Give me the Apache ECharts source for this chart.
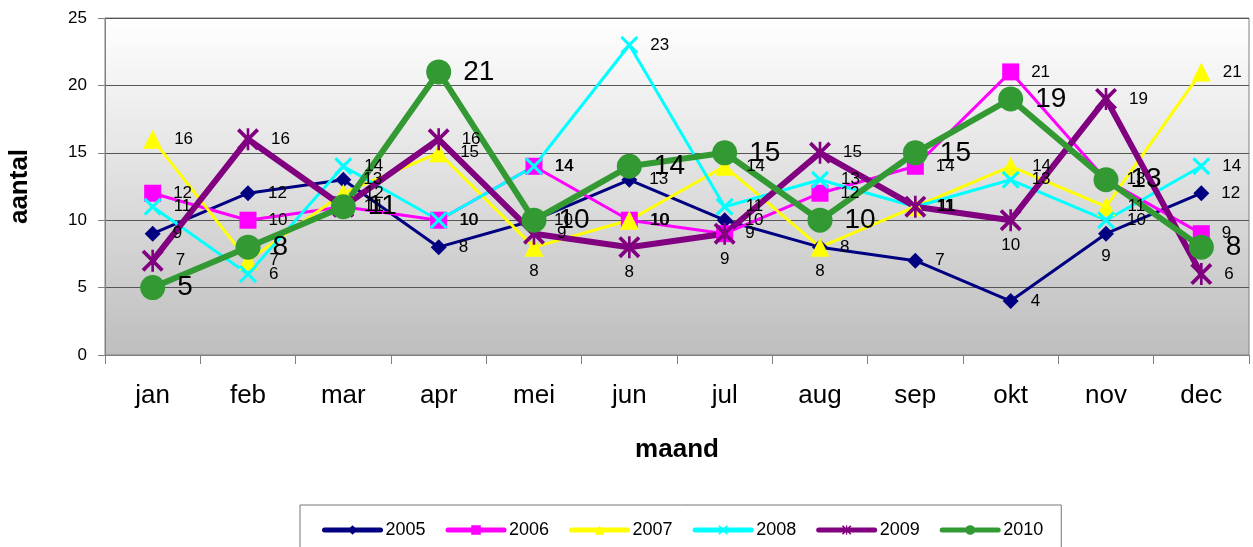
<!DOCTYPE html>
<html><head><meta charset="utf-8">
<script src="https://cdn.jsdelivr.net/npm/echarts@6/dist/echarts.min.js"></script>
<style>html,body{margin:0;padding:0;background:#fff}#c{width:1253px;height:547px}</style>
</head><body><div id="c"></div>
<script>
const months = ['jan','feb','mar','apr','mei','jun','jul','aug','sep','okt','nov','dec'];
const yTicks = [0,5,10,15,20,25];
const s2005 = [9,12,13,8,10,13,10,8,7,4,9,12];
const s2006 = [12,10,11,10,14,10,9,12,14,21,13,9];
const s2007 = [16,7,12,15,8,10,14,8,11,14,11,21];
const s2008 = [11,6,14,10,14,23,11,13,11,13,10,14];
const s2009 = [7,16,11,16,9,8,9,15,11,10,19,6];
const s2010 = [5,8,11,21,10,14,15,10,15,19,13,8];

// styling: which point labels sit below the marker (by month index)
const labelBelow = {'2005':[10],'2007':[4,7],'2009':[5,6,9]};

const X = 'path://M0,1.2L1.2,0L5,3.8L8.8,0L10,1.2L6.2,5L10,8.8L8.8,10L5,6.2L1.2,10L0,8.8L3.8,5Z';
const STAR = 'path://M0,1.2L1.2,0L5,3.8L8.8,0L10,1.2L6.2,5L10,8.8L8.8,10L5,6.2L1.2,10L0,8.8L3.8,5Z M4.4,0L5.6,0L5.6,10L4.4,10Z';

const defs = [
  {name:'2005', data:s2005, color:'#000080', symbol:'diamond', size:16, width:3, font:17, dist:12},
  {name:'2006', data:s2006, color:'#FF00FF', symbol:'rect', size:17, width:3, font:17, dist:12},
  {name:'2007', data:s2007, color:'#FFFF00', symbol:'triangle', size:19, width:3, font:17, dist:12},
  {name:'2008', data:s2008, color:'#00FFFF', symbol:X, size:18, width:3, font:17, dist:12},
  {name:'2009', data:s2009, color:'#800080', symbol:STAR, size:22, width:6, font:17, dist:12},
  {name:'2010', data:s2010, color:'#339933', symbol:'circle', size:25, width:6, font:28, dist:12}
];

const series = defs.map(d => ({
  name:d.name, type:'line', data:d.data.map((v,i)=> (labelBelow[d.name]||[]).includes(i)
      ? {value:v, label:{position:'bottom', distance:6}} : v),
  symbol:d.symbol, symbolSize:d.size, symbolKeepAspect:true,
  lineStyle:{color:d.color, width:d.width},
  itemStyle:{color:d.color},
  label:{show:true, position:'right', distance:d.dist, color:'#000',
         fontFamily:'Liberation Sans', fontSize:d.font},
  emphasis:{disabled:true}, animation:false, z: 2
}));

const chart = echarts.init(document.getElementById('c'), null, {renderer:'canvas'});
chart.setOption({
  animation:false,
  textStyle:{fontFamily:'Liberation Sans'},
  grid:{left:105, right:4, top:18, bottom:192, containLabel:false, outerBoundsMode:'none',
        show:true, borderColor:'#808080', borderWidth:1,
        backgroundColor:new echarts.graphic.LinearGradient(0,0,0,1,[{offset:0,color:'#ffffff'},{offset:1,color:'#bebebe'}])},
  xAxis:{type:'category', data:months, boundaryGap:true,
    name:'maand', nameLocation:'middle', nameGap:82,
    nameTextStyle:{fontSize:26, fontWeight:'bold', color:'#000', fontFamily:'Liberation Sans'},
    axisLine:{lineStyle:{color:'#808080', width:1}},
    axisTick:{show:true, length:9, lineStyle:{color:'#808080'}},
    axisLabel:{fontSize:26, color:'#000', margin:28, fontFamily:'Liberation Sans'}},
  yAxis:{type:'value', min:yTicks[0], max:yTicks[yTicks.length-1], interval:5,
    name:'aantal', nameLocation:'middle', nameGap:72, nameRotate:90,
    nameTextStyle:{fontSize:26, fontWeight:'bold', color:'#000', fontFamily:'Liberation Sans'},
    axisLine:{show:true, lineStyle:{color:'#808080'}},
    axisTick:{show:true, length:7, lineStyle:{color:'#808080'}},
    splitLine:{lineStyle:{color:'#555', width:1}},
    axisLabel:{fontSize:17, color:'#000', margin:18, fontFamily:'Liberation Sans'}},
  legend:{left:300, top:505, width:740, itemWidth:56, itemHeight:12, itemGap:20,
    padding:[16,18,20,22], borderColor:'#777', borderWidth:1,
    lineStyle:{width:5, cap:'round'},
    textStyle:{fontSize:18, color:'#000', fontFamily:'Liberation Sans'},
    data:defs.map(d=>d.name)},
  series: series
});
</script></body></html>
